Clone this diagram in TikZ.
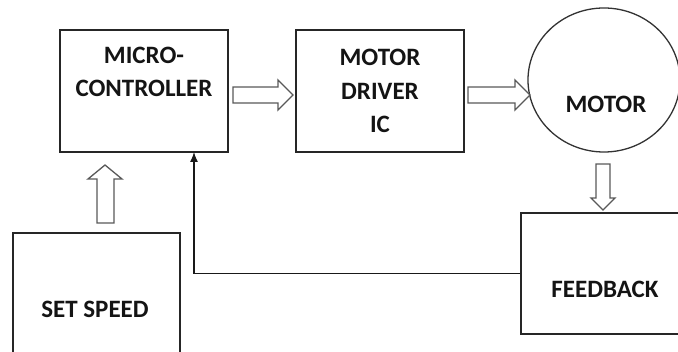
\documentclass[tikz,border=0pt]{standalone}
\usepackage{fontspec}
\setmainfont{Carlito}
\usetikzlibrary{arrows.meta,shapes.geometric}
\begin{document}
\begin{tikzpicture}[x=1pt,y=-1pt,
  blk/.style={draw=black!85, line width=1.4pt, rectangle, inner sep=0pt},
  lbl/.style={font=\bfseries\fontsize{25}{33.5}\selectfont, text=black!92, align=center, inner sep=0pt},
  hollow/.style={draw=black!65, line width=1.3pt, fill=white, line join=miter},
  fbline/.style={draw=black!90, line width=1.3pt, -{Latex[length=10pt,width=8pt]}}]
\useasboundingbox (0,0) rectangle (678,352);
\clip (0,0) rectangle (678,352);
% blocks
\node[blk, minimum width=168pt, minimum height=122pt] (mc) at (144,91) {};
\node[lbl] (mct) at (144,72) {MICRO-\\CONTROLLER};
\node[blk, lbl, minimum width=168pt, minimum height=122pt] (md) at (380,91) {MOTOR\\DRIVER\\IC};
\node[draw=black!80, line width=1.3pt, ellipse, minimum width=152pt, minimum height=144pt, inner sep=0pt] (mot) at (604,80) {};
\node[lbl] (mott) at (606,104) {MOTOR};
\node[blk, minimum width=200pt, minimum height=121pt] (fb) at (621,273.5) {};
\node[lbl] (fbt) at (605,289) {FEEDBACK};
\node[blk, minimum width=167pt, minimum height=160pt] (ss) at (96.5,313) {};
\node[lbl] (sst) at (95,309) {SET SPEED};
% hollow arrows
\path[hollow] (233,87) -- (278,87) -- (278,80) -- (293,95) -- (278,110) -- (278,103) -- (233,103) -- cycle;
\path[hollow] (468,87) -- (515,87) -- (515,80) -- (530,95) -- (515,110) -- (515,103) -- (468,103) -- cycle;
\path[hollow] (596,164) -- (596,198) -- (591,198) -- (603,210) -- (615,198) -- (610,198) -- (610,164) -- cycle;
\path[hollow] (97,223) -- (97,179) -- (88,179) -- (105,165) -- (122,179) -- (114,179) -- (114,223) -- cycle;
% feedback connector
\coordinate (mcin) at (194,152);
\draw[fbline] (fb.west) -| (mcin);
\end{tikzpicture}
\end{document}
